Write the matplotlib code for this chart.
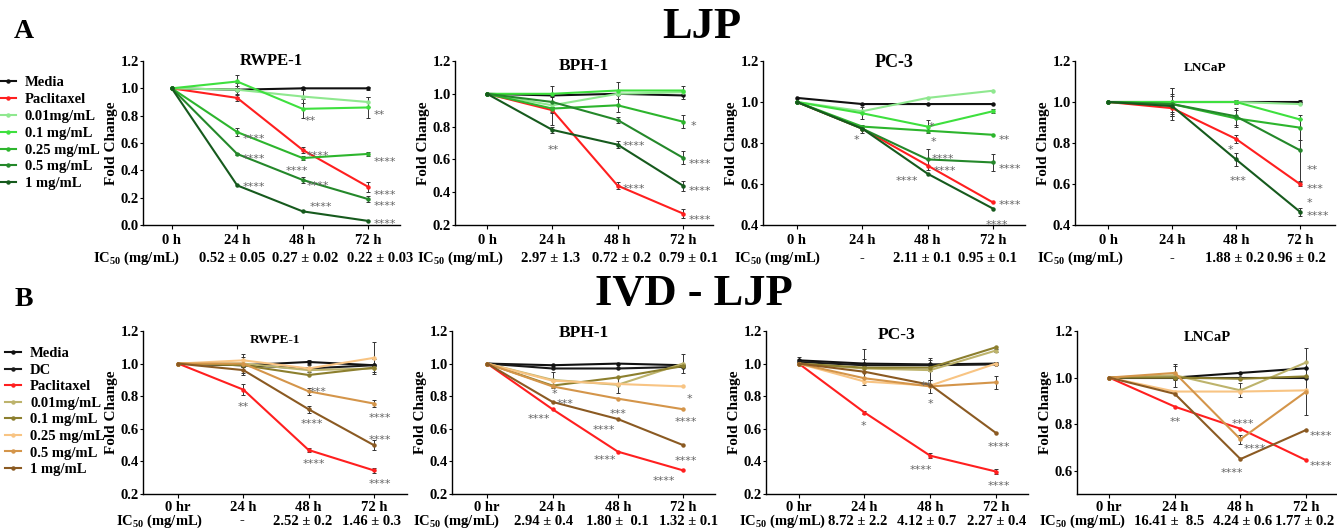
import matplotlib
matplotlib.use('Agg')
import matplotlib.pyplot as plt

plt.rcParams['font.family'] = ['Liberation Serif', 'DejaVu Serif']
plt.rcParams['font.weight'] = 'bold'
plt.rcParams['axes.labelweight'] = 'bold'
plt.rcParams['mathtext.fontset'] = 'custom'
plt.rcParams['mathtext.rm'] = 'Liberation Serif:bold'
plt.rcParams['mathtext.bf'] = 'Liberation Serif:bold'
plt.rcParams['mathtext.it'] = 'Liberation Serif:bold'
plt.rcParams['mathtext.default'] = 'bf'

# ---------------- data ----------------
time_labels_A = ['0 h', '24 h', '48 h', '72 h']
time_labels_B = ['0 hr', '24 h', '48 h', '72 h']

series_A = ['Media', 'Paclitaxel', '0.01mg/mL', '0.1 mg/mL', '0.25 mg/mL', '0.5 mg/mL', '1 mg/mL']
series_B = ['Media', 'DC', 'Paclitaxel', '0.01mg/mL', '0.1 mg/mL', '0.25 mg/mL', '0.5 mg/mL', '1 mg/mL']

colors_A = ['#111111', '#ff1f1f', '#8fe88f', '#3ee03e', '#2db52d', '#24882a', '#165a1d']
colors_B = ['#111111', '#1a1a1a', '#ff1f1f', '#bdb36c', '#8c7f2e', '#f8c483', '#d4954a', '#8b5a22']

A_RWPE1 = {
    'Media':      [1.00, 0.99, 1.00, 1.00],
    'Paclitaxel': [1.00, 0.93, 0.55, 0.28],
    '0.01mg/mL':  [1.00, 0.99, 0.94, 0.90],
    '0.1 mg/mL':  [1.00, 1.05, 0.85, 0.86],
    '0.25 mg/mL': [1.00, 0.68, 0.49, 0.52],
    '0.5 mg/mL':  [1.00, 0.52, 0.33, 0.19],
    '1 mg/mL':    [1.00, 0.29, 0.10, 0.03],
}
A_BPH1 = {
    'Media':      [1.00, 0.99, 1.00, 0.99],
    'Paclitaxel': [1.00, 0.90, 0.44, 0.27],
    '0.01mg/mL':  [1.00, 0.93, 1.00, 1.01],
    '0.1 mg/mL':  [1.00, 1.00, 1.02, 1.02],
    '0.25 mg/mL': [1.00, 0.91, 0.93, 0.83],
    '0.5 mg/mL':  [1.00, 0.95, 0.84, 0.61],
    '1 mg/mL':    [1.00, 0.78, 0.69, 0.44],
}
A_PC3 = {
    'Media':      [1.02, 0.99, 0.99, 0.99],
    'Paclitaxel': [1.00, 0.87, 0.69, 0.51],
    '0.01mg/mL':  [1.00, 0.955, 1.02, 1.055],
    '0.1 mg/mL':  [1.00, 0.945, 0.88, 0.955],
    '0.25 mg/mL': [1.00, 0.88, 0.86, 0.84],
    '0.5 mg/mL':  [1.00, 0.87, 0.72, 0.705],
    '1 mg/mL':    [1.00, 0.87, 0.65, 0.48],
}
A_LNCaP = {
    'Media':      [1.00, 1.00, 1.00, 1.00],
    'Paclitaxel': [1.00, 0.97, 0.82, 0.60],
    '0.01mg/mL':  [1.00, 1.00, 1.00, 0.99],
    '0.1 mg/mL':  [1.00, 1.00, 1.00, 0.915],
    '0.25 mg/mL': [1.00, 0.99, 0.92, 0.875],
    '0.5 mg/mL':  [1.00, 0.99, 0.93, 0.765],
    '1 mg/mL':    [1.00, 0.98, 0.72, 0.465],
}
B_RWPE1 = {
    'Media':      [1.00, 0.99, 1.01, 0.99],
    'DC':         [1.00, 0.99, 0.97, 0.99],
    'Paclitaxel': [1.00, 0.84, 0.47, 0.345],
    '0.01mg/mL':  [1.00, 1.00, 0.96, 0.97],
    '0.1 mg/mL':  [1.00, 0.99, 0.93, 0.975],
    '0.25 mg/mL': [1.00, 1.02, 0.97, 1.035],
    '0.5 mg/mL':  [1.00, 1.00, 0.83, 0.755],
    '1 mg/mL':    [1.00, 0.96, 0.72, 0.50],
}
B_BPH1 = {
    'Media':      [1.00, 0.99, 1.00, 0.99],
    'DC':         [1.00, 0.97, 0.97, 0.98],
    'Paclitaxel': [1.00, 0.72, 0.46, 0.345],
    '0.01mg/mL':  [1.00, 0.90, 0.87, 1.00],
    '0.1 mg/mL':  [1.00, 0.865, 0.915, 0.985],
    '0.25 mg/mL': [1.00, 0.895, 0.875, 0.86],
    '0.5 mg/mL':  [1.00, 0.86, 0.785, 0.72],
    '1 mg/mL':    [1.00, 0.765, 0.66, 0.50],
}
B_PC3 = {
    'Media':      [1.02, 1.00, 0.995, 1.00],
    'DC':         [1.01, 0.99, 0.99, 0.995],
    'Paclitaxel': [1.00, 0.70, 0.435, 0.338],
    '0.01mg/mL':  [1.00, 0.97, 0.96, 1.08],
    '0.1 mg/mL':  [1.00, 0.975, 0.975, 1.10],
    '0.25 mg/mL': [1.00, 0.89, 0.865, 1.00],
    '0.5 mg/mL':  [1.00, 0.91, 0.86, 0.885],
    '1 mg/mL':    [1.00, 0.95, 0.87, 0.575],
}
B_LNCaP = {
    'Media':      [1.00, 1.00, 1.02, 1.04],
    'DC':         [1.00, 1.00, 1.00, 1.00],
    'Paclitaxel': [1.00, 0.875, 0.78, 0.645],
    '0.01mg/mL':  [1.00, 1.01, 0.945, 1.065],
    '0.1 mg/mL':  [1.00, 1.00, 0.995, 1.005],
    '0.25 mg/mL': [1.00, 0.94, 0.94, 0.945],
    '0.5 mg/mL':  [1.00, 1.02, 0.735, 0.94],
    '1 mg/mL':    [1.00, 0.93, 0.65, 0.775],
}

# standard errors (only visible ones)
A_RWPE1_err = {'Media': [0, 0.03, 0.01, 0.01], 'Paclitaxel': [0, 0.02, 0.02, 0.035],
               '0.01mg/mL': [0, 0.05, 0.05, 0.04], '0.1 mg/mL': [0, 0.05, 0.07, 0.075],
               '0.25 mg/mL': [0, 0.03, 0.015, 0.015], '0.5 mg/mL': [0, 0.01, 0.02, 0.02]}
A_BPH1_err = {'0.01mg/mL': [0, 0.12, 0.07, 0.04], '0.25 mg/mL': [0, 0.02, 0.04, 0.04],
              '0.5 mg/mL': [0, 0.03, 0.02, 0.04], '1 mg/mL': [0, 0.02, 0.02, 0.03],
              'Paclitaxel': [0, 0.02, 0.02, 0.03]}
A_PC3_err = {'0.1 mg/mL': [0, 0.03, 0.03, 0.01], '0.5 mg/mL': [0, 0.02, 0.05, 0.04]}
A_LNCaP_err = {'Media': [0, 0.07, 0.01, 0.01], '0.5 mg/mL': [0, 0.08, 0.04, 0.15],
               '0.25 mg/mL': [0, 0.05, 0.04, 0.06], '1 mg/mL': [0, 0.05, 0.03, 0.02],
               'Paclitaxel': [0, 0.02, 0.02, 0.01]}
B_RWPE1_err = {'Media': [0, 0.05, 0.01, 0.04], '0.25 mg/mL': [0, 0.04, 0.02, 0.1],
               '1 mg/mL': [0, 0.03, 0.02, 0.03], 'Paclitaxel': [0, 0.035, 0.01, 0.015],
               '0.5 mg/mL': [0, 0.02, 0.02, 0.02]}
B_BPH1_err = {'0.01mg/mL': [0, 0.05, 0.05, 0.06]}
B_PC3_err = {'Media': [0.02, 0.09, 0.04, 0.01], '0.01mg/mL': [0, 0.06, 0.06, 0.01],
             'Paclitaxel': [0, 0.01, 0.015, 0.015], '0.5 mg/mL': [0, 0.04, 0.04, 0.04]}
B_LNCaP_err = {'0.01mg/mL': [0, 0.05, 0.03, 0.06], '0.5 mg/mL': [0, 0.03, 0.02, 0.1]}

# significance labels: (time index, fold change, text, alignment)
A_RWPE1_stars = [(2.03, 0.79, '**', 'left'), (3.08, 0.834, '**', 'left'),
                 (1.09, 0.66, '****', 'left'), (1.09, 0.51, '****', 'left'),
                 (1.09, 0.305, '****', 'left'), (2.06, 0.537, '****', 'left'),
                 (1.92, 0.427, '****', 'center'), (2.06, 0.317, '****', 'left'),
                 (2.28, 0.159, '****', 'center'), (3.09, 0.495, '****', 'left'),
                 (3.09, 0.25, '****', 'left'), (3.09, 0.17, '****', 'left'),
                 (3.09, 0.04, '****', 'left')]
A_BPH1_stars = [(1.01, 0.685, '**', 'center'), (2.08, 0.705, '****', 'left'),
                (2.07, 0.443, '****', 'left'), (3.12, 0.83, '*', 'left'),
                (3.09, 0.60, '****', 'left'), (3.09, 0.43, '****', 'left'),
                (3.09, 0.256, '****', 'left')]
A_PC3_stars = [(0.91, 0.836, '*', 'center'), (2.06, 0.898, '*', 'center'),
               (2.09, 0.825, '*', 'center'), (2.06, 0.743, '****', 'left'),
               (2.09, 0.686, '****', 'left'), (1.68, 0.637, '****', 'center'),
               (3.08, 0.833, '**', 'left'), (3.08, 0.694, '****', 'left'),
               (3.08, 0.519, '****', 'left'), (3.06, 0.42, '****', 'center')]
A_LNCaP_stars = [(1.92, 0.788, '*', 'center'), (2.03, 0.635, '***', 'center'),
                 (3.1, 0.69, '**', 'left'), (3.1, 0.595, '***', 'left'),
                 (3.1, 0.528, '*', 'left'), (3.1, 0.465, '****', 'left')]
B_RWPE1_stars = [(1.0, 0.759, '**', 'center'), (2.02, 0.85, '***', 'left'),
                 (2.05, 0.657, '****', 'center'), (2.08, 0.407, '****', 'center'),
                 (3.09, 0.69, '****', 'center'), (3.09, 0.555, '****', 'center'),
                 (3.09, 0.285, '****', 'center')]
B_BPH1_stars = [(1.03, 0.837, '*', 'center'), (1.07, 0.779, '***', 'left'),
                (0.79, 0.687, '****', 'center'), (2.01, 0.717, '***', 'center'),
                (1.78, 0.621, '****', 'center'), (1.80, 0.432, '****', 'center'),
                (3.10, 0.806, '*', 'center'), (3.05, 0.666, '****', 'center'),
                (3.05, 0.43, '****', 'center'), (2.70, 0.303, '****', 'center')]
B_PC3_stars = [(0.99, 0.641, '*', 'center'), (1.94, 0.888, '**', 'center'),
               (2.01, 0.775, '*', 'center'), (1.86, 0.37, '****', 'center'),
               (3.04, 0.512, '****', 'center'), (3.04, 0.272, '****', 'center')]
B_LNCaP_stars = [(1.0, 0.829, '**', 'center'), (2.04, 0.819, '****', 'center'),
                 (2.22, 0.711, '****', 'center'), (1.87, 0.607, '****', 'center'),
                 (3.05, 0.766, '****', 'left'), (3.05, 0.64, '****', 'left')]

ic50_label = 'IC$_{50}$ (mg/mL)'
A_RWPE1_ic50 = ['0.52 ± 0.05', '0.27 ± 0.02', '0.22 ± 0.03']
A_BPH1_ic50 = ['2.97 ± 1.3', '0.72 ± 0.2', '0.79 ± 0.1']
A_PC3_ic50 = ['-', '2.11 ± 0.1', '0.95 ± 0.1']
A_LNCaP_ic50 = ['-', '1.88 ± 0.2', '0.96 ± 0.2']
B_RWPE1_ic50 = ['-', '2.52 ± 0.2', '1.46 ± 0.3']
B_BPH1_ic50 = ['2.94 ± 0.4', '1.80 ±  0.1', '1.32 ± 0.1']
B_PC3_ic50 = ['8.72 ± 2.2', '4.12 ± 0.7', '2.27 ± 0.4']
B_LNCaP_ic50 = ['16.41 ±  8.5', '4.24 ± 0.6', '1.77 ± 0.2']

titles = ['RWPE-1', 'BPH-1', 'PC-3', 'LNCaP']

# ---------------- figure ----------------
W, H = 1337, 528
fig = plt.figure(figsize=(W / 100, H / 100), dpi=100)


def px_rect(l, t, r, b):
    return [l / W, 1 - b / H, (r - l) / W, (b - t) / H]


def draw(rect, data, err, names, colors, tlabels, xlim, ylim, yticks,
         title, title_fs, title_y, stars, ic50, ic50_pos, tick_dy, ic50_dy):
    ax = fig.add_axes(rect)
    x = list(range(len(tlabels)))
    for name, c in zip(names, colors):
        ax.plot(x, data[name], color=c, lw=1.5, marker='o', ms=2.2,
                label=name, zorder=3)
        if name in err:
            ax.errorbar(x, data[name], yerr=err[name], fmt='none',
                        ecolor='#333333', elinewidth=0.7, capsize=1.5,
                        capthick=0.7, zorder=2)
    ax.set_xlim(*xlim)
    ax.set_ylim(*ylim)
    ax.set_yticks(yticks)
    ax.set_yticklabels([f'{v:.1f}' for v in yticks], fontsize=10.5)
    ax.set_xticks(x)
    ax.set_xticklabels([])
    ax.tick_params(axis='x', length=3, width=0.8, direction='out')
    ax.tick_params(axis='y', length=2, width=0.8, pad=1)
    for s in ['top', 'right']:
        ax.spines[s].set_visible(False)
    for s in ['left', 'bottom']:
        ax.spines[s].set_linewidth(1.0)
    ax.set_ylabel('Fold Change', fontsize=11, labelpad=2)
    ax.text(0.5, title_y, title, transform=ax.transAxes, ha='center',
            va='center', fontsize=title_fs, fontweight='bold')
    for xi, lab in zip(x, tlabels):
        ax.annotate(lab, xy=(xi, 0), xycoords=('data', 'axes fraction'),
                    xytext=(0, -tick_dy), textcoords='offset points',
                    ha='center', va='center', fontsize=10.5)
    labels_row = [ic50_label] + list(ic50)
    for xi, lab in zip(ic50_pos, labels_row):
        ax.annotate(lab, xy=(xi, 0), xycoords=('data', 'axes fraction'),
                    xytext=(0, -ic50_dy), textcoords='offset points',
                    ha='center', va='center', fontsize=10.5)
    for sx, sy, txt, ha in stars:
        ax.annotate(txt, xy=(sx, sy), xytext=(0, -3), textcoords='offset points',
                    ha=ha, va='center', fontsize=8, color='#666666',
                    family='DejaVu Sans', fontweight='normal')
    return ax


# Row A
axA = draw(px_rect(143, 61, 400, 225), A_RWPE1, A_RWPE1_err, series_A, colors_A,
           time_labels_A, (-0.44, 3.49), (0.0, 1.2), [0.0, 0.2, 0.4, 0.6, 0.8, 1.0, 1.2],
           titles[0], 12, 1.0, A_RWPE1_stars, A_RWPE1_ic50,
           [-0.54, 0.92, 2.04, 3.18], 11, 24)
draw(px_rect(455, 61, 713, 225), A_BPH1, A_BPH1_err, series_A, colors_A,
     time_labels_A, (-0.49, 3.46), (0.2, 1.2), [0.2, 0.4, 0.6, 0.8, 1.0, 1.2],
     titles[1], 12.5, 0.97, A_BPH1_stars, A_BPH1_ic50,
     [-0.41, 0.97, 2.06, 3.08], 11, 24)
draw(px_rect(763, 61, 1025, 225), A_PC3, A_PC3_err, series_A, colors_A,
     time_labels_A, (-0.52, 3.49), (0.4, 1.2), [0.4, 0.6, 0.8, 1.0, 1.2],
     titles[2], 13, 0.99, A_PC3_stars, A_PC3_ic50,
     [-0.29, 1.0, 1.92, 2.92], 11, 24)
draw(px_rect(1075, 61, 1335, 225), A_LNCaP, A_LNCaP_err, series_A, colors_A,
     time_labels_A, (-0.52, 3.55), (0.4, 1.2), [0.4, 0.6, 0.8, 1.0, 1.2],
     titles[3], 9.5, 0.96, A_LNCaP_stars, A_LNCaP_ic50,
     [-0.43, 1.0, 1.98, 2.95], 11, 24)

# Row B
axB = draw(px_rect(143, 331, 407, 494), B_RWPE1, B_RWPE1_err, series_B, colors_B,
           time_labels_B, (-0.54, 3.51), (0.2, 1.2), [0.2, 0.4, 0.6, 0.8, 1.0, 1.2],
           titles[0], 9.5, 0.945, B_RWPE1_stars, B_RWPE1_ic50,
           [-0.29, 0.98, 1.91, 2.96], 10, 19.5)
draw(px_rect(452, 331, 715, 494), B_BPH1, B_BPH1_err, series_B, colors_B,
     time_labels_B, (-0.54, 3.49), (0.2, 1.2), [0.2, 0.4, 0.6, 0.8, 1.0, 1.2],
     titles[1], 12.5, 0.988, B_BPH1_stars, B_BPH1_ic50,
     [-0.47, 0.86, 2.0, 3.08], 10, 19.5)
draw(px_rect(766, 331, 1028, 494), B_PC3, B_PC3_err, series_B, colors_B,
     time_labels_B, (-0.50, 3.49), (0.2, 1.2), [0.2, 0.4, 0.6, 0.8, 1.0, 1.2],
     titles[2], 12.5, 0.976, B_PC3_stars, B_PC3_ic50,
     [-0.24, 0.9, 1.95, 3.01], 10, 19.5)
draw(px_rect(1077, 331, 1337, 494), B_LNCaP, B_LNCaP_err, series_B, colors_B,
     time_labels_B, (-0.49, 3.47), (0.5, 1.2), [0.6, 0.8, 1.0, 1.2],
     titles[3], 10.5, 0.963, B_LNCaP_stars, B_LNCaP_ic50,
     [-0.40, 0.92, 2.03, 2.98], 10, 19.5)

# legends
hA, lA = axA.get_legend_handles_labels()
fig.legend(hA, lA, loc='upper left', bbox_to_anchor=(0.0, 1 - 76 / H),
           frameon=False, fontsize=10.5, handlelength=1.1, handletextpad=0.6,
           labelspacing=0.25, borderpad=0, borderaxespad=0)
hB, lB = axB.get_legend_handles_labels()
fig.legend(hB, lB, loc='upper left', bbox_to_anchor=(0.004, 1 - 347 / H),
           frameon=False, fontsize=10.5, handlelength=1.1, handletextpad=0.6,
           labelspacing=0.23, borderpad=0, borderaxespad=0)

# headings
fig.text(702 / W, 1 - 27 / H, 'LJP', ha='center', va='center', fontsize=32, fontweight='bold')
fig.text(694 / W, 1 - 294 / H, 'IVD - LJP', ha='center', va='center', fontsize=32, fontweight='bold')
fig.text(24 / W, 1 - 32 / H, 'A', ha='center', va='center', fontsize=20, fontweight='bold')
fig.text(24 / W, 1 - 299 / H, 'B', ha='center', va='center', fontsize=20, fontweight='bold')

fig.savefig('out.png', dpi=100)
